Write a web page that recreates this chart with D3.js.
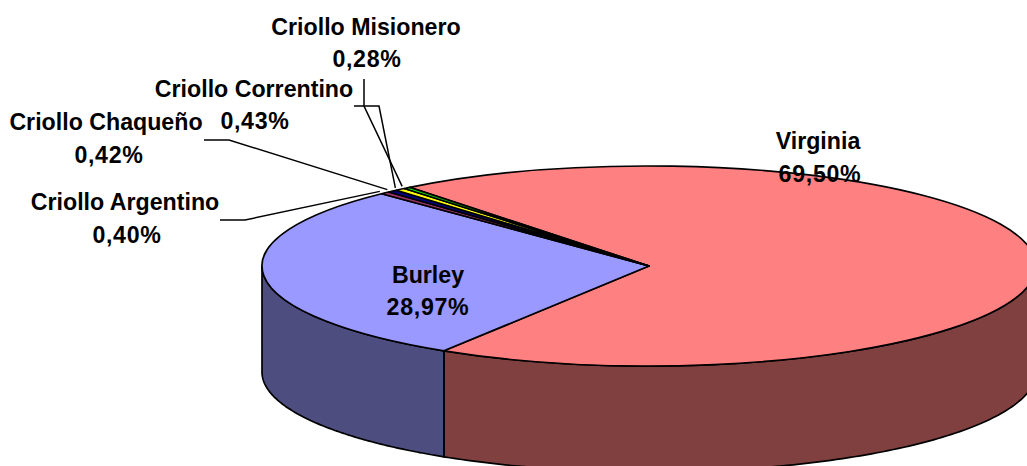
<!DOCTYPE html>
<html>
<head>
<meta charset="utf-8">
<script src="https://cdn.jsdelivr.net/npm/d3@7"></script>
<style>
  html, body { margin: 0; padding: 0; background: #fff; overflow: hidden; }
  text { font-family: "Liberation Sans", Arial, sans-serif; font-weight: bold; font-size: 23.2px; fill: #000; }
  text.pct { letter-spacing: 0.7px; }
</style>
</head>
<body>
<div id="chart"></div>
<script>
// datos
const categories = ["Virginia", "Burley", "Criollo Argentino", "Criollo Chaqueño", "Criollo Correntino", "Criollo Misionero"];
const shares = [69.50, 28.97, 0.40, 0.42, 0.43, 0.28];
const topColors = ["#FF8080", "#9999FF", "#993366", "#000080", "#FFFF00", "#00FF00"];
const sideColors = ["#804040", "#4D4D80", "#4D1A33", "#000040", "#808000", "#008000"];

const width = 1027, height = 466;
const cx = 649, cy = 266, rx = 387, ry = 100, depth = 106;
const startDeg = -38.2;

// posicion de cada etiqueta: x nombre, y nombre, x porcentaje, y porcentaje
const labelPos = [
  [818, 149, 820, 182],
  [428, 283, 428, 315],
  [125, 210, 127, 243],
  [106, 130, 109, 163],
  [254, 97, 255, 129],
  [366, 35, 367, 67]
];
// codo de las lineas guia (null = sin guia)
const leaderStart = [null, null, [220, 220], [204, 140], [354, 106], [364, 79]];
const leaderElbow = [null, null, [245, 220], [229, 140], [379, 106], [364, 106]];

const svg = d3.select("#chart").append("svg")
  .attr("width", width)
  .attr("height", height)
  .style("display", "block")
  .style("background", "#fff");

const pie = d3.pie().sort(null)
  .startAngle(startDeg * Math.PI / 180)
  .endAngle((startDeg + 360) * Math.PI / 180);
const slices = pie(shares).map((d, i) => ({ ...d, i }));

const ex = a => cx + rx * Math.sin(a);
const ey = a => cy - ry * Math.cos(a);
const line = d3.line();

// pared lateral: solo la parte delantera (90 a 270 grados)
function sidePath(s) {
  const a0 = Math.max(s.startAngle, Math.PI / 2);
  const a1 = Math.min(s.endAngle, 3 * Math.PI / 2);
  if (a1 <= a0) return null;
  const steps = d3.range(0, 121).map(k => a0 + (a1 - a0) * k / 120);
  const pts = steps.map(a => [ex(a), ey(a)])
    .concat(steps.slice().reverse().map(a => [ex(a), ey(a) + depth]));
  return line(pts) + "Z";
}

svg.append("g").selectAll("path")
  .data(slices.filter(s => sidePath(s)))
  .enter().append("path")
  .attr("d", sidePath)
  .attr("fill", d => sideColors[d.i])
  .attr("stroke", "#000")
  .attr("stroke-width", 1.7)
  .attr("stroke-linejoin", "round");

// tapa superior
const arc = d3.arc().innerRadius(0).outerRadius(rx);
svg.append("g")
  .attr("transform", `translate(${cx},${cy}) scale(1,${ry / rx})`)
  .selectAll("path")
  .data(slices)
  .enter().append("path")
  .attr("d", arc)
  .attr("fill", d => topColors[d.i])
  .attr("stroke", "#000")
  .attr("stroke-width", 1.7)
  .attr("stroke-linejoin", "round")
  .attr("vector-effect", "non-scaling-stroke");

// lineas guia
svg.append("g").selectAll("path")
  .data(slices.filter(s => leaderStart[s.i]))
  .enter().append("path")
  .attr("d", d => {
    const mid = (d.startAngle + d.endAngle) / 2;
    const tip = [cx + (ex(mid) - cx) * 1.02, cy + (ey(mid) - cy) * 1.02];
    return line([leaderStart[d.i], leaderElbow[d.i], tip]);
  })
  .attr("fill", "none")
  .attr("stroke", "#000")
  .attr("stroke-width", 1.5);

// etiquetas
const labels = svg.append("g").selectAll("g")
  .data(slices)
  .enter().append("g");
labels.append("text")
  .attr("x", d => labelPos[d.i][0])
  .attr("y", d => labelPos[d.i][1])
  .attr("text-anchor", "middle")
  .text(d => categories[d.i]);
labels.append("text")
  .attr("class", "pct")
  .attr("x", d => labelPos[d.i][2])
  .attr("y", d => labelPos[d.i][3])
  .attr("text-anchor", "middle")
  .text(d => d.data.toFixed(2).replace(".", ",") + "%");
</script>
</body>
</html>
